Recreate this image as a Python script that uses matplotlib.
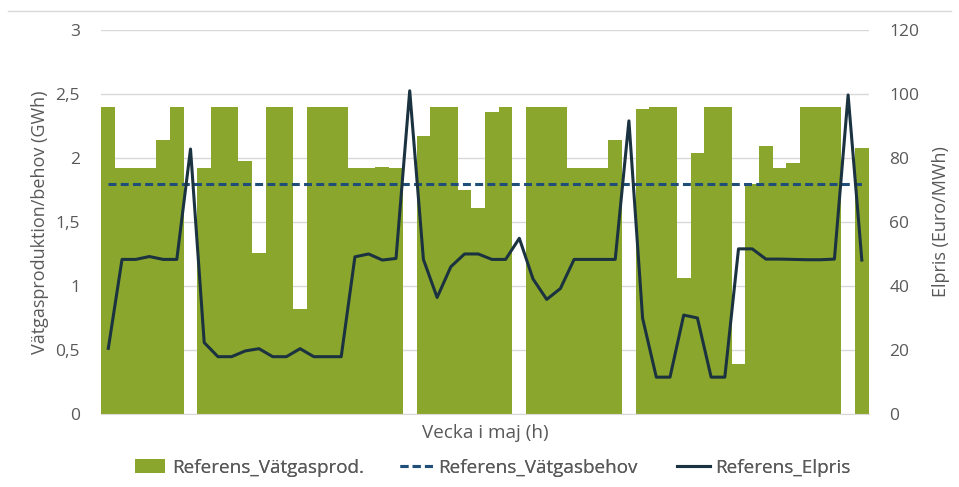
import matplotlib.pyplot as plt
import numpy as np

# Vätgasproduktion per timme (GWh), vänster axel
prod = [2.4, 1.92, 1.92, 1.92, 2.14, 2.4, 0, 1.92, 2.4, 2.4,
        1.98, 1.26, 2.4, 2.4, 0.82, 2.4, 2.4, 2.4, 1.92, 1.92,
        1.93, 1.92, 0, 2.17, 2.4, 2.4, 1.75, 1.61, 2.36, 2.4,
        0, 2.4, 2.4, 2.4, 1.92, 1.92, 1.92, 2.14, 0, 2.38,
        2.4, 2.4, 1.06, 2.04, 2.4, 2.4, 0.39, 1.8, 2.09, 1.92,
        1.96, 2.4, 2.4, 2.4, 0, 2.08]

# Vätgasbehov (GWh)
behov = [1.8] * len(prod)

# Elpris (Euro/MWh), höger axel
elpris = [20.5, 48.3, 48.3, 49.2, 48.3, 48.3, 82.8, 22.3, 17.9, 17.9,
          19.7, 20.4, 17.9, 17.9, 20.4, 17.9, 17.9, 17.9, 49.1, 50.0,
          48.1, 48.6, 101.0, 48.3, 36.4, 46.0, 50.0, 50.0, 48.3, 48.3,
          54.9, 42.2, 35.8, 39.2, 48.3, 48.3, 48.3, 48.3, 91.6, 29.9,
          11.5, 11.5, 30.9, 30.0, 11.5, 11.5, 51.6, 51.6, 48.4, 48.4,
          48.3, 48.2, 48.2, 48.4, 99.7, 48.1]

left_ticks = [0, 0.5, 1, 1.5, 2, 2.5, 3]
left_labels = ["0", "0,5", "1", "1,5", "2", "2,5", "3"]
right_ticks = [0, 20, 40, 60, 80, 100, 120]

plt.rcParams['font.family'] = ['Open Sans', 'DejaVu Sans']
grey = '#595959'

fig = plt.figure(figsize=(9.59, 4.87), dpi=100)
ax = fig.add_axes([0.1058, 0.150, 0.80, 0.7884])
ax2 = ax.twinx()

x = np.arange(len(prod))
bars = ax.bar(x, prod, width=1.0, color='#8ba62d', label='Referens_Vätgasprod.')
dline, = ax.plot(x, behov, color='#1f4e79', lw=2.2, dashes=(2.6, 1.4),
                 label='Referens_Vätgasbehov')
eline, = ax2.plot(x, elpris, color='#1b3340', lw=2.2, label='Referens_Elpris')

ax.set_xlim(-0.5, len(prod) - 0.5)
ax.set_ylim(0, 3)
ax2.set_ylim(0, 120)
ax.set_yticks(left_ticks)
ax.set_yticklabels(left_labels)
ax2.set_yticks(right_ticks)
ax.set_xticks([])

ax.set_axisbelow(True)
ax.grid(axis='y', color='#d9d9d9', lw=1)
for a in (ax, ax2):
    for s in a.spines.values():
        s.set_visible(False)
    a.tick_params(length=0, labelsize=12.5, colors=grey)
ax.spines['bottom'].set_visible(True)
ax.spines['bottom'].set_color('#d9d9d9')
ax.tick_params(axis='y', pad=15.5)
ax2.tick_params(axis='y', pad=14.8)

ax.set_xlabel('Vecka i maj (h)', fontsize=13.6, color=grey, labelpad=7.5)
ax.set_ylabel('Vätgasproduktion/behov (GWh)', fontsize=13, color=grey)
ax2.set_ylabel('Elpris (Euro/MWh)', fontsize=13, color=grey)
ax.yaxis.set_label_coords(-0.068, 0.5)
ax2.yaxis.set_label_coords(1.083, 0.5)

# tunn linje överst
fig.add_artist(plt.Line2D([0.008, 0.992], [0.977, 0.977], color='#d9d9d9', lw=1))

# legend, en post i taget
entries = [(bars, 'Referens_Vätgasprod.', 0.1408, 1.6, 0.37),
           (dline, 'Referens_Vätgasbehov', 0.4171, 1.75, 0.27),
           (eline, 'Referens_Elpris', 0.7059, 1.75, 0.27)]
for h, lab, xpos, hl, tp in entries:
    leg = fig.legend([h], [lab], loc='center left', bbox_to_anchor=(xpos, 0.040),
                     frameon=False, fontsize=13.6, labelcolor=grey,
                     handlelength=hl, handletextpad=tp, borderpad=0,
                     borderaxespad=0)
    fig.add_artist(leg)

fig.savefig('out.png', dpi=100)
